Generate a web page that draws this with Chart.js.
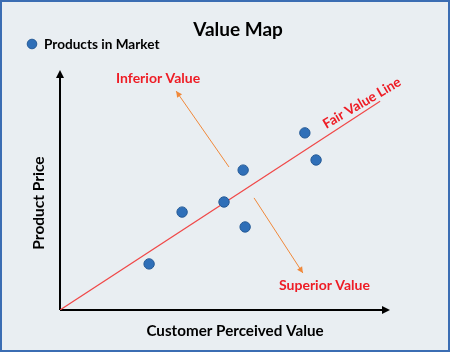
<!DOCTYPE html>
<html><head><meta charset="utf-8">
<script src="https://cdn.jsdelivr.net/npm/chart.js@4"></script>
<style>
html,body{margin:0;padding:0;background:#e9eef2;}
#wrap{position:absolute;left:0;top:0;width:446px;height:348px;border:2px solid #3b6db3;background:#e9eef2;}
canvas{display:block;}
</style></head><body>
<div id="wrap"><canvas id="c" width="446" height="348"></canvas></div>
<script>
const productX = [74.2, 77.6, 55.5, 49.7, 37.0, 56.1, 27.0];
const productY = [73.8, 62.5, 58.3, 45.0, 40.8, 34.6, 19.2];
const fairLineX = [0, 97];
const fairLineY = [0, 87];
const inferiorArrowX = [51.2, 35.2];
const inferiorArrowY = [59.6, 91.2];
const superiorArrowX = [58.8, 73.6];
const superiorArrowY = [46.7, 15.4];
const labels = {title:'Value Map', legend:'Products in Market', xTitle:'Customer Perceived Value', yTitle:'Product Price', fair:'Fair Value Line', inferior:'Inferior Value', superior:'Superior Value'};

const toPts = (xs, ys) => xs.map((x,i)=>({x, y: ys[i]}));
const F = 'Lato, "Open Sans", sans-serif';

function arrowHead(ctx, x1, y1, x2, y2, size, color){
  const a = Math.atan2(y2-y1, x2-x1);
  ctx.save();
  ctx.fillStyle = color;
  ctx.beginPath();
  ctx.moveTo(x2, y2);
  ctx.lineTo(x2 - size*Math.cos(a) + size*0.5*Math.sin(a), y2 - size*Math.sin(a) - size*0.5*Math.cos(a));
  ctx.lineTo(x2 - size*Math.cos(a) - size*0.5*Math.sin(a), y2 - size*Math.sin(a) + size*0.5*Math.cos(a));
  ctx.closePath();
  ctx.fill();
  ctx.restore();
}

const deco = {
  id:'deco',
  beforeDatasetsDraw(chart){
    const ctx = chart.ctx, xs = chart.scales.x, ys = chart.scales.y;
    const ox = xs.getPixelForValue(0), oy = ys.getPixelForValue(0);
    const xe = xs.getPixelForValue(100), ye = ys.getPixelForValue(100);
    ctx.save();
    ctx.strokeStyle = '#000'; ctx.lineWidth = 2;
    ctx.beginPath(); ctx.moveTo(ox, oy); ctx.lineTo(xe-6, oy); ctx.stroke();
    ctx.beginPath(); ctx.moveTo(ox, oy); ctx.lineTo(ox, ye+6); ctx.stroke();
    arrowHead(ctx, ox, oy, xe, oy, 8, '#000');
    arrowHead(ctx, ox, oy, ox, ye, 8, '#000');
    ctx.restore();
  },
  afterDatasetsDraw(chart){
    const ctx = chart.ctx, xs = chart.scales.x, ys = chart.scales.y;
    const px = v => xs.getPixelForValue(v), py = v => ys.getPixelForValue(v);
    arrowHead(ctx, px(inferiorArrowX[0]), py(inferiorArrowY[0]), px(inferiorArrowX[1]), py(inferiorArrowY[1]), 6, '#f0883a');
    arrowHead(ctx, px(superiorArrowX[0]), py(superiorArrowY[0]), px(superiorArrowX[1]), py(superiorArrowY[1]), 6, '#f0883a');
    ctx.save();
    ctx.textBaseline = 'middle';
    ctx.fillStyle = '#000';
    ctx.font = 'bold 19px ' + F; ctx.textAlign = 'center';
    ctx.fillText(labels.title, 236, 28);
    ctx.font = 'bold 13.6px ' + F; ctx.textAlign = 'left';
    ctx.fillText(labels.legend, 42, 43);
    ctx.fillStyle = '#2f6fb8'; ctx.strokeStyle = '#255a96'; ctx.lineWidth = 1;
    ctx.beginPath(); ctx.arc(30, 42, 4.8, 0, Math.PI*2); ctx.fill(); ctx.stroke();
    ctx.fillStyle = '#000';
    ctx.font = 'bold 15.2px ' + F; ctx.textAlign = 'center';
    ctx.fillText(labels.xTitle, 233, 329);
    ctx.font = 'bold 15.5px ' + F;
    ctx.save(); ctx.translate(37, 201); ctx.rotate(-Math.PI/2);
    ctx.fillText(labels.yTitle, 0, 0); ctx.restore();
    ctx.fillStyle = '#ee1c25';
    ctx.font = 'bold 14px ' + F; ctx.textAlign = 'left';
    ctx.fillText(labels.inferior, 114, 76);
    ctx.fillText(labels.superior, 277, 283);
    ctx.font = 'bold 13.6px ' + F;
    ctx.save(); ctx.translate(360, 101); ctx.rotate(-0.53);
    ctx.textAlign = 'center'; ctx.fillText(labels.fair, 0, 0); ctx.restore();
    ctx.restore();
  }
};

new Chart(document.getElementById('c'), {
  type:'scatter',
  data:{datasets:[
    {label:'fair', type:'line', data:toPts(fairLineX, fairLineY), borderColor:'#f04848', borderWidth:1.2, pointRadius:0, fill:false, order:3},
    {label:'inf', type:'line', data:toPts(inferiorArrowX, inferiorArrowY), borderColor:'#f0883a', borderWidth:1, pointRadius:0, fill:false, order:2},
    {label:'sup', type:'line', data:toPts(superiorArrowX, superiorArrowY), borderColor:'#f0883a', borderWidth:1, pointRadius:0, fill:false, order:2},
    {label:labels.legend, data:toPts(productX, productY), backgroundColor:'#2f6fb8', borderColor:'#255a96', borderWidth:1, pointRadius:5.2, order:1}
  ]},
  options:{
    responsive:false, animation:false,
    layout:{padding:{left:58, right:58, top:68, bottom:40}},
    scales:{
      x:{type:'linear', min:0, max:100, display:false},
      y:{type:'linear', min:0, max:100, display:false}
    },
    plugins:{legend:{display:false}, tooltip:{enabled:false}, title:{display:false}}
  },
  plugins:[deco]
});
</script>
</body></html>
